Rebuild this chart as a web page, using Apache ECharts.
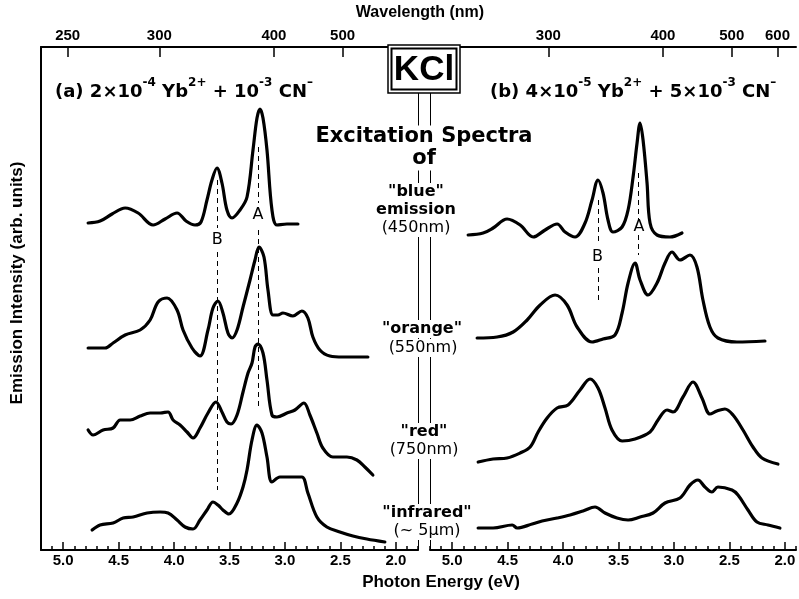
<!DOCTYPE html>
<html>
<head>
<meta charset="utf-8">
<script src="https://cdn.jsdelivr.net/npm/echarts@6/dist/echarts.min.js"></script>
<style>
html, body { margin: 0; padding: 0; background: #fff; }
#chart { width: 799px; height: 599px; }
</style>
</head>
<body>
<div id="chart"></div>
<script>
// tick labels
const energyTicks = [5.0, 4.5, 4.0, 3.5, 3.0, 2.5, 2.0];
const wavelengthTicksA = [250, 300, 400, 500];
const wavelengthTicksB = [300, 400, 500, 600];
const HC = 1239.84; // eV*nm

// (a) 2e-4 Yb + 1e-3 CN : [photon energy eV, intensity arb.]
const aBlue = [[4.775,327],[4.667,329],[4.559,336],[4.441,342],[4.324,337],[4.189,325],[4.081,331],[3.973,337],[3.892,329],[3.811,325],[3.757,328],[3.703,350],[3.658,370],[3.613,382],[3.568,367],[3.523,340],[3.477,332],[3.405,340],[3.342,353],[3.288,400],[3.252,432],[3.225,441],[3.198,432],[3.162,400],[3.117,340],[3.072,325],[2.982,326],[2.883,326]];
const aOrange = [[4.775,202],[4.622,202],[4.550,207],[4.441,215],[4.306,220],[4.216,230],[4.144,248],[4.063,252],[3.973,240],[3.919,220],[3.838,202],[3.766,194],[3.694,220],[3.649,242],[3.604,249],[3.559,237],[3.514,217],[3.477,212],[3.432,220],[3.378,243],[3.315,270],[3.270,290],[3.234,303],[3.189,293],[3.153,260],[3.108,235],[3.063,235],[3.018,237],[2.928,234],[2.847,239],[2.793,232],[2.748,213],[2.685,200],[2.595,194],[2.477,193],[2.252,193]];
const aRed = [[4.775,120],[4.730,115],[4.640,120],[4.550,122],[4.486,130],[4.396,130],[4.306,134],[4.216,137],[4.126,137],[4.054,138],[4.009,130],[3.946,125],[3.883,118],[3.829,112],[3.766,122],[3.694,137],[3.622,148],[3.568,138],[3.523,128],[3.486,126],[3.432,135],[3.378,158],[3.333,177],[3.297,187],[3.270,203],[3.243,206],[3.198,197],[3.162,170],[3.117,135],[3.072,133],[2.982,137],[2.910,140],[2.829,147],[2.775,135],[2.712,117],[2.658,102],[2.568,93],[2.441,93],[2.351,90],[2.279,83],[2.207,75]];
const aInfrared = [[4.739,20],[4.667,25],[4.550,27],[4.459,32],[4.369,33],[4.243,37],[4.126,38],[4.054,37],[3.973,30],[3.901,23],[3.829,21],[3.766,30],[3.703,40],[3.649,48],[3.604,45],[3.559,40],[3.505,36],[3.432,47],[3.378,63],[3.342,80],[3.297,110],[3.252,125],[3.207,117],[3.162,93],[3.117,68],[3.045,73],[2.928,73],[2.847,73],[2.793,57],[2.712,33],[2.622,23],[2.505,18],[2.387,14],[2.261,11],[2.099,8]];

// (b) 4e-5 Yb + 5e-3 CN
const bBlue = [[4.856,315],[4.721,317],[4.631,322],[4.505,331],[4.387,325],[4.270,313],[4.162,320],[4.054,326],[3.982,318],[3.892,313],[3.802,327],[3.739,350],[3.685,370],[3.640,357],[3.595,330],[3.550,318],[3.468,323],[3.414,340],[3.369,373],[3.333,407],[3.306,427],[3.279,410],[3.243,367],[3.216,327],[3.153,315],[3.036,313],[2.928,317]];
const bOrange = [[4.775,212],[4.595,213],[4.450,218],[4.324,230],[4.207,245],[4.072,255],[3.964,245],[3.874,223],[3.739,208],[3.640,211],[3.532,215],[3.468,237],[3.414,267],[3.351,287],[3.306,270],[3.234,255],[3.153,267],[3.081,287],[3.018,298],[2.946,290],[2.856,295],[2.793,283],[2.739,250],[2.676,223],[2.604,212],[2.432,208],[2.180,209]];
const bRed = [[4.766,88],[4.631,91],[4.505,92],[4.387,97],[4.297,103],[4.225,118],[4.144,132],[4.054,142],[3.955,145],[3.847,160],[3.757,171],[3.685,162],[3.622,142],[3.559,120],[3.468,109],[3.351,111],[3.216,118],[3.144,130],[3.063,140],[3.009,138],[2.919,153],[2.829,168],[2.748,152],[2.676,136],[2.613,139],[2.541,141],[2.468,135],[2.378,120],[2.288,103],[2.207,92],[2.063,86]];
const bInfrared = [[4.766,22],[4.631,22],[4.459,25],[4.414,22],[4.279,26],[4.189,29],[4.054,32],[3.937,35],[3.820,39],[3.712,43],[3.622,37],[3.514,32],[3.414,30],[3.306,33],[3.189,37],[3.081,47],[2.946,52],[2.856,65],[2.784,70],[2.721,63],[2.658,58],[2.604,63],[2.477,60],[2.423,55],[2.333,40],[2.252,28],[2.153,25],[2.045,22]];

// dashed guide lines for bands A and B, and their letters
const aGuides = [[[3.61,370],[3.61,322]], [[3.61,298],[3.61,60]], [[3.24,403],[3.24,347]], [[3.24,320],[3.24,140]]];
const aLetters = [['B',3.61,310], ['A',3.243,335]];
const bGuides = [[[3.685,350],[3.685,307]], [[3.685,282],[3.685,250]], [[3.32,377],[3.32,330]], [[3.32,315],[3.32,295]]];
const bLetters = [['B',3.69,293], ['A',3.315,323]];

const chart = echarts.init(document.getElementById('chart'));

const tickFont = { color: '#000', fontFamily: 'Liberation Sans', fontWeight: 'bold', fontSize: 15 };

function bottomAxis(gridIndex, min) {
    return {
        type: 'value', gridIndex: gridIndex, position: 'bottom', inverse: true, min: min, max: 5.2,
        axisLine: { show: true, onZero: false, lineStyle: { color: '#000', width: 2 } },
        axisTick: { show: true, inside: true, length: 8, customValues: energyTicks, lineStyle: { color: '#000', width: 1.5 } },
        axisLabel: Object.assign({ show: true, margin: 3, customValues: energyTicks, formatter: v => v.toFixed(1) }, tickFont),
        splitLine: { show: false }
    };
}
function minorAxis(gridIndex, min) {
    return {
        type: 'value', gridIndex: gridIndex, position: 'bottom', inverse: true, min: min, max: 5.2, interval: 0.1,
        axisLine: { show: false, onZero: false },
        axisTick: { show: true, inside: true, length: 4, lineStyle: { color: '#000', width: 1.5 } },
        axisLabel: { show: false },
        splitLine: { show: false }
    };
}
function topAxis(gridIndex, min, wl) {
    const vals = wl.map(l => HC / l);
    return {
        type: 'value', gridIndex: gridIndex, position: 'top', inverse: true, min: min, max: 5.2,
        axisLine: { show: true, onZero: false, lineStyle: { color: '#000', width: 2 } },
        axisTick: { show: true, inside: true, length: 10, customValues: vals, lineStyle: { color: '#000', width: 1.5 } },
        axisLabel: Object.assign({ show: true, margin: 4, customValues: vals, formatter: v => String(Math.round(HC / v)) }, tickFont),
        splitLine: { show: false }
    };
}
function yAxis(gridIndex, position, width) {
    return {
        type: 'value', gridIndex: gridIndex, position: position, min: 0, max: 503,
        axisLine: { show: true, onZero: false, lineStyle: { color: '#000', width: width } },
        axisTick: { show: false }, axisLabel: { show: false }, splitLine: { show: false }
    };
}
function curve(data, xi, yi, extra) {
    return Object.assign({
        type: 'line', data: data, xAxisIndex: xi, yAxisIndex: yi,
        showSymbol: false, smooth: 0.35, silent: true,
        lineStyle: { color: '#000', width: 3.2, cap: 'round', join: 'round' }
    }, extra || {});
}
function guides(lines, letters) {
    return {
        markLine: {
            silent: true, symbol: ['none', 'none'], label: { show: false },
            lineStyle: { color: '#000', width: 1, type: [5, 4] },
            data: lines.map(s => [{ coord: s[0] }, { coord: s[1] }])
        },
        markPoint: {
            silent: true, symbol: 'circle', symbolSize: 1,
            itemStyle: { color: 'rgba(0,0,0,0)' },
            label: { show: true, position: 'inside', formatter: '{b}', color: '#000', fontFamily: 'DejaVu Sans', fontSize: 16 },
            data: letters.map(l => ({ name: l[0], coord: [l[1], l[2]] }))
        }
    };
}

const boldDV = 'bold 16px "DejaVu Sans"';
const normDV = '16px "DejaVu Sans"';
function label(text, x, y, font) {
    return {
        type: 'text', x: x, y: y, z: 100,
        style: { text: text, font: font, fill: '#000', align: 'center', verticalAlign: 'middle',
                 textAlign: 'center', textVerticalAlign: 'middle', backgroundColor: '#fff', padding: [1, 3] }
    };
}
const supStyle = { fontSize: 12, fontWeight: 'bold', fontFamily: 'DejaVu Sans', verticalAlign: 'top', lineHeight: 12 };
function title(text, x, y) {
    return {
        type: 'text', x: x, y: y, z: 100,
        style: { text: text, font: 'bold 18px "DejaVu Sans"', lineHeight: 30, fill: '#000',
                 align: 'left', verticalAlign: 'middle', textAlign: 'left', textVerticalAlign: 'middle',
                 rich: { sup: supStyle } }
    };
}

const option = {
    animation: false,
    backgroundColor: '#fff',
    grid: [
        { left: 41, top: 47, width: 377, height: 503 },
        { left: 430, top: 47, width: 366, height: 503 }
    ],
    xAxis: [
        bottomAxis(0, 1.8), minorAxis(0, 1.8), topAxis(0, 1.8, wavelengthTicksA),
        bottomAxis(1, 1.9), minorAxis(1, 1.9), topAxis(1, 1.9, wavelengthTicksB)
    ],
    yAxis: [yAxis(0, 'left', 2), yAxis(0, 'right', 1), yAxis(1, 'left', 1)],
    series: [
        curve(aBlue, 0, 0, guides(aGuides, aLetters)),
        curve(aOrange, 0, 0),
        curve(aRed, 0, 0),
        curve(aInfrared, 0, 0),
        curve(bBlue, 3, 2, guides(bGuides, bLetters)),
        curve(bOrange, 3, 2),
        curve(bRed, 3, 2),
        curve(bInfrared, 3, 2)
    ],
    graphic: [
        { type: 'rect', z: 100, shape: { x: 388, y: 45, width: 72, height: 48 }, style: { fill: '#fff', stroke: '#000', lineWidth: 1.5 } },
        { type: 'rect', z: 101, shape: { x: 391.5, y: 48.5, width: 65, height: 41 }, style: { fill: 'none', stroke: '#000', lineWidth: 2 } },
        { type: 'text', z: 102, x: 424, y: 70, style: { text: 'KCl', font: 'bold 35px "Liberation Sans"', fill: '#000', align: 'center', verticalAlign: 'middle', textAlign: 'center', textVerticalAlign: 'middle' } },
        title('(a) 2×10{sup|-4} Yb{sup|2+} + 10{sup|-3} CN{sup|–}', 55, 92),
        title('(b) 4×10{sup|-5} Yb{sup|2+} + 5×10{sup|-3} CN{sup|–}', 490, 92),
        label('Excitation Spectra', 424, 137, 'bold 21px "DejaVu Sans"'),
        label('of', 424, 159, 'bold 21px "DejaVu Sans"'),
        label('"blue"', 416, 192, boldDV),
        label('emission', 416, 210, boldDV),
        label('(450nm)', 416, 228, normDV),
        label('"orange"', 422, 329, boldDV),
        label('(550nm)', 423, 348, normDV),
        label('"red"', 424, 432, boldDV),
        label('(750nm)', 424, 450, normDV),
        label('"infrared"', 427, 513, boldDV),
        label('(~ 5µm)', 427, 531, normDV),
        { type: 'text', z: 100, x: 420, y: 13, style: { text: 'Wavelength (nm)', font: 'bold 16px "Liberation Sans"', fill: '#000', align: 'center', verticalAlign: 'middle', textAlign: 'center', textVerticalAlign: 'middle' } },
        { type: 'text', z: 100, x: 441, y: 582, style: { text: 'Photon Energy (eV)', font: 'bold 17px "Liberation Sans"', fill: '#000', align: 'center', verticalAlign: 'middle', textAlign: 'center', textVerticalAlign: 'middle' } },
        { type: 'text', z: 100, x: 17, y: 283, rotation: Math.PI / 2, style: { text: 'Emission Intensity (arb. units)', font: 'bold 17px "Liberation Sans"', fill: '#000', align: 'center', verticalAlign: 'middle', textAlign: 'center', textVerticalAlign: 'middle' } }
    ]
};
chart.setOption(option);
</script>
</body>
</html>
